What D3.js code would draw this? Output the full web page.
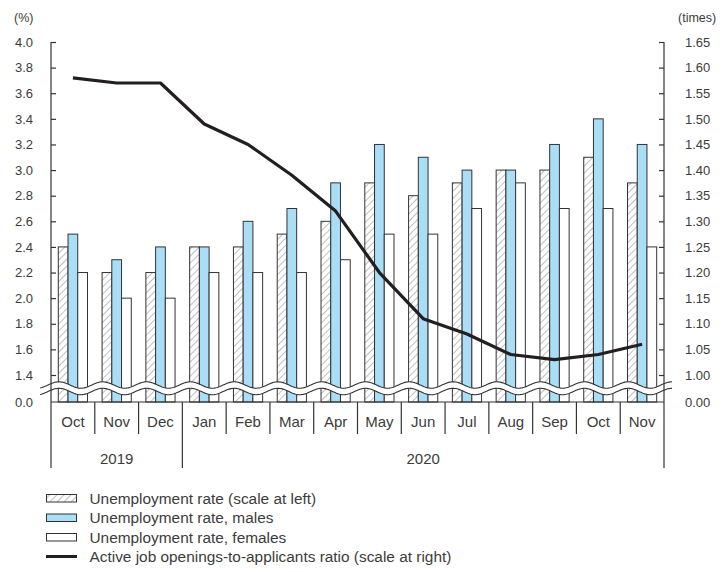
<!DOCTYPE html>
<html>
<head>
<meta charset="utf-8">
<script src="https://cdn.jsdelivr.net/npm/d3@7/dist/d3.min.js"></script>
<style>
  html, body { margin: 0; padding: 0; background: #fff; }
  svg { display: block; font-family: "Liberation Sans", Arial, Helvetica, sans-serif; }
  text { fill: #3c3c3c; }
</style>
</head>
<body>
<div id="chart"></div>
<script>
// Monthly labour market indicators, Oct 2019 – Nov 2020
const months = ["Oct", "Nov", "Dec", "Jan", "Feb", "Mar", "Apr", "May", "Jun", "Jul", "Aug", "Sep", "Oct", "Nov"];
const years = [{ label: "2019", from: 0, to: 3 }, { label: "2020", from: 3, to: 14 }];
const unempTotal = [2.4, 2.2, 2.2, 2.4, 2.4, 2.5, 2.6, 2.9, 2.8, 2.9, 3.0, 3.0, 3.1, 2.9];
const unempMale = [2.5, 2.3, 2.4, 2.4, 2.6, 2.7, 2.9, 3.2, 3.1, 3.0, 3.0, 3.2, 3.4, 3.2];
const unempFemale = [2.2, 2.0, 2.0, 2.2, 2.2, 2.2, 2.3, 2.5, 2.5, 2.7, 2.9, 2.7, 2.7, 2.4];
const jobRatio = [1.58, 1.57, 1.57, 1.49, 1.45, 1.39, 1.32, 1.20, 1.11, 1.08, 1.04, 1.03, 1.04, 1.06];
const leftTicks = [0.0, 1.4, 1.6, 1.8, 2.0, 2.2, 2.4, 2.6, 2.8, 3.0, 3.2, 3.4, 3.6, 3.8, 4.0];
const rightTicks = [0.00, 1.00, 1.05, 1.10, 1.15, 1.20, 1.25, 1.30, 1.35, 1.40, 1.45, 1.50, 1.55, 1.60, 1.65];
const seriesNames = ["Unemployment rate (scale at left)", "Unemployment rate, males", "Unemployment rate, females", "Active job openings-to-applicants ratio (scale at right)"];

const W = 725, H = 572;
const x0 = 51, x1 = 664, yTop = 42, yBase = 402, yBreak = 375;
const ink = "#333";
const blue = "#a9def6";

const svg = d3.select("#chart").append("svg").attr("width", W).attr("height", H);
const defs = svg.append("defs");
const pat = defs.append("pattern").attr("id", "hatch").attr("patternUnits", "userSpaceOnUse")
  .attr("width", 5).attr("height", 5).attr("patternTransform", "rotate(45)");
pat.append("rect").attr("width", 5).attr("height", 5).attr("fill", "#fff");
pat.append("line").attr("x1", 0).attr("y1", 0).attr("x2", 0).attr("y2", 5)
  .attr("stroke", "#8a8a8a").attr("stroke-width", 1.1);

// Scales with an axis break below 1.4 % / 1.00 times
const yL = d3.scaleLinear().domain([0, 1.4, 4.0]).range([yBase, yBreak, yTop]);
const yR = d3.scaleLinear().domain([0, 1.0, 1.65]).range([yBase, yBreak, yTop]);
const xM = d3.scaleBand().domain(d3.range(months.length)).range([x0, x1]);
const xS = d3.scaleBand().domain([0, 1, 2]).range([0, xM.bandwidth()]).paddingOuter(0.75).paddingInner(0);

// Bars
const series = [
  { vals: unempTotal, fill: "url(#hatch)" },
  { vals: unempMale, fill: blue },
  { vals: unempFemale, fill: "#fff" }
];
series.forEach((s, si) => {
  svg.append("g").selectAll("rect").data(s.vals).join("rect")
    .attr("x", (d, i) => xM(i) + xS(si))
    .attr("y", d => yL(d))
    .attr("width", xS.bandwidth())
    .attr("height", d => yBase - yL(d))
    .attr("fill", s.fill)
    .attr("stroke", ink).attr("stroke-width", 1);
});

// Axis break squiggle
const amp = 3.2, period = xM.bandwidth();
const wave = (off) => d3.range(40, 672.5, 1).map(x => [x, off - amp * Math.cos(2 * Math.PI * (x - x0 - 8) / period)]);
const waveUpper = wave(385), waveLower = wave(391.5);
svg.append("path").attr("d", d3.line()(waveUpper.concat(waveLower.slice().reverse())) + "Z").attr("fill", "#fff");
svg.append("path").attr("d", d3.line()(waveUpper)).attr("fill", "none").attr("stroke", ink).attr("stroke-width", 1.1);
svg.append("path").attr("d", d3.line()(waveLower)).attr("fill", "none").attr("stroke", ink).attr("stroke-width", 1.1);

// Left axis
const gL = svg.append("g").attr("transform", `translate(${x0},0)`)
  .call(d3.axisLeft(yL).tickValues(leftTicks).tickSizeInner(-5).tickSizeOuter(0).tickPadding(18).tickFormat(d3.format(".1f")));
// Right axis
const gR = svg.append("g").attr("transform", `translate(${x1},0)`)
  .call(d3.axisRight(yR).tickValues(rightTicks).tickSizeInner(-5).tickSizeOuter(0).tickPadding(21).tickFormat(d3.format(".2f")));
[gL, gR].forEach(g => {
  g.select(".domain").attr("stroke", ink).attr("stroke-width", 1.2).attr("d", `M0,${yTop}V${yBase}`);
  g.selectAll(".tick line").attr("stroke", ink).attr("stroke-width", 1.2);
  g.selectAll(".tick text").attr("font-size", 13).attr("fill", "#3c3c3c");
});
gL.selectAll(".tick").filter(d => d === 0).select("line").remove();
gR.selectAll(".tick").filter(d => d === 0).select("line").remove();

svg.append("text").attr("x", 14).attr("y", 22).attr("font-size", 12.5).text("(%)");
svg.append("text").attr("x", 678).attr("y", 22).attr("font-size", 12.5).text("(times)");

// Baseline
svg.append("line").attr("x1", x0).attr("x2", x1).attr("y1", yBase).attr("y2", yBase)
  .attr("stroke", ink).attr("stroke-width", 1.2);

// Month row and year row
const bounds = d3.range(months.length + 1).map(i => i < months.length ? xM(i) : x1);
svg.append("g").selectAll("line").data(bounds).join("line")
  .attr("x1", d => d).attr("x2", d => d).attr("y1", yBase).attr("y2", 434)
  .attr("stroke", ink).attr("stroke-width", 1.2);
svg.append("g").selectAll("line").data([0, 3, 14]).join("line")
  .attr("x1", i => bounds[i]).attr("x2", i => bounds[i]).attr("y1", 434).attr("y2", 468)
  .attr("stroke", ink).attr("stroke-width", 1.2);
svg.append("g").selectAll("text").data(months).join("text")
  .attr("x", (d, i) => xM(i) + xM.bandwidth() / 2).attr("y", 426.5)
  .attr("text-anchor", "middle").attr("font-size", 15).text(d => d);
svg.append("g").selectAll("text").data(years).join("text")
  .attr("x", d => (bounds[d.from] + bounds[d.to]) / 2).attr("y", 464)
  .attr("text-anchor", "middle").attr("font-size", 15).text(d => d.label);

// Job openings-to-applicants ratio line
svg.append("path").datum(jobRatio)
  .attr("d", d3.line().x((d, i) => xM(i) + xM.bandwidth() / 2).y(d => yR(d)))
  .attr("fill", "none").attr("stroke", "#231f20").attr("stroke-width", 3.2).attr("stroke-linejoin", "round");

// Legend
const lg = svg.append("g").attr("transform", "translate(46,498)");
const rowH = 19.5;
[["url(#hatch)"], [blue], ["#fff"]].forEach((f, i) => {
  lg.append("rect").attr("x", 0.5).attr("y", i * rowH - 3.5).attr("width", 30).attr("height", 7.5)
    .attr("fill", f[0]).attr("stroke", ink).attr("stroke-width", 1);
});
lg.append("line").attr("x1", 0).attr("x2", 31).attr("y1", 3 * rowH).attr("y2", 3 * rowH)
  .attr("stroke", "#231f20").attr("stroke-width", 3);
lg.selectAll("text").data(seriesNames).join("text")
  .attr("x", 43.5).attr("y", (d, i) => i * rowH + 5.5).attr("font-size", 15.4).text(d => d);
</script>
</body>
</html>
